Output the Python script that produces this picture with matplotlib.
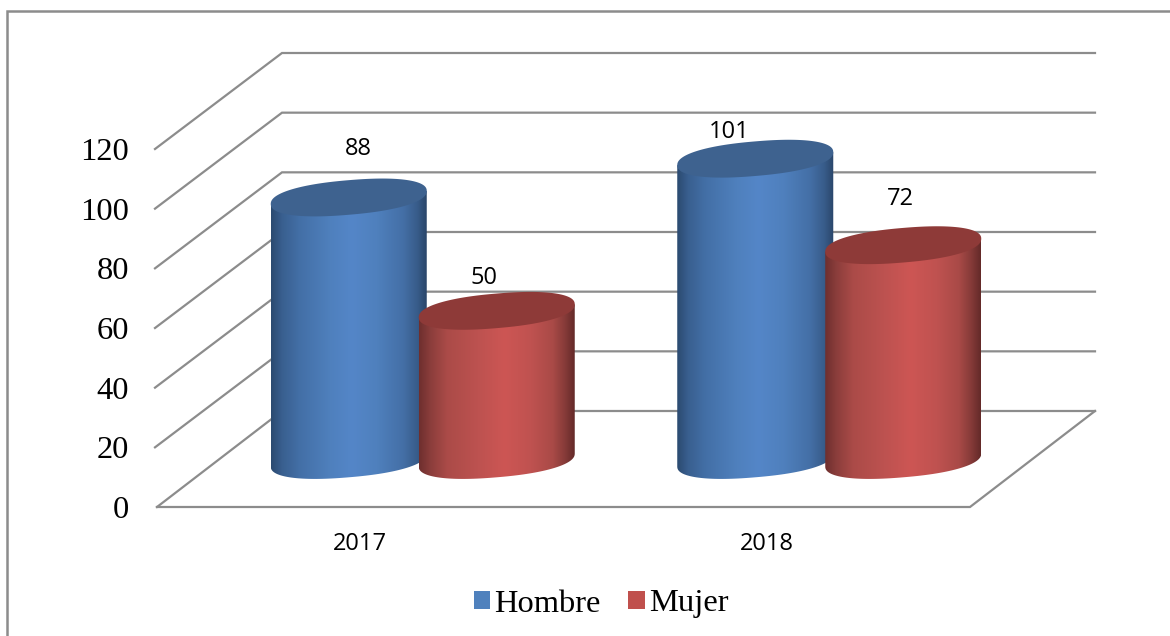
import numpy as np
import matplotlib
matplotlib.use('Agg')
import matplotlib.pyplot as plt
from matplotlib.colors import LinearSegmentedColormap
from matplotlib.patches import Patch, PathPatch
from matplotlib.path import Path
from matplotlib.lines import Line2D

years = ['2017', '2018']
series = ['Hombre', 'Mujer']
hombre = [88, 101]
mujer = [50, 72]
yticks = [0, 20, 40, 60, 80, 100, 120]

W, H = 1170, 636
GRID = '#8c8c8c'
SERIF = 'Liberation Serif'
SANS = 'Open Sans'

fig = plt.figure(figsize=(W / 100, H / 100), dpi=100, facecolor='white')
# axes = front plane of the fake 3d box
ax = fig.add_axes([157 / W, (H - 507) / H, 813 / W, 358 / H])
ax.set_xlim(-0.5, 1.5)
ax.set_ylim(0, 120)
for s in ax.spines.values():
    s.set_visible(False)
ax.patch.set_visible(False)

# pixels to data units
px = 2 / 813
py = 120 / 358

# box
back_dx, back_dy = 125 * px, 96 * py
x0, x1 = ax.get_xlim()
for v in yticks:
    ax.plot([x0 - (2 * px if v else 0), x0 + back_dx, x1 + back_dx],
            [v, v + back_dy, v + back_dy],
            color=GRID, lw=1.6, clip_on=False, zorder=1, solid_joinstyle='miter')
ax.plot([x0, x1, x1 + back_dx], [0, 0, back_dy], color=GRID, lw=1.6,
        clip_on=False, zorder=1, solid_joinstyle='miter')

# cylinders
bar_dx, bar_dy = 62.5 * px, 47 * py
shift = 74 * px
a, tilt, b = 78 * px, 6.5 * py, 17.3 * py

cmap_blue = LinearSegmentedColormap.from_list('b', [
    (0, '#2b4a70'), (0.07, '#395f8f'), (0.18, '#436fa6'), (0.38, '#4f80bd'),
    (0.52, '#5486c8'), (0.68, '#4f80bd'), (0.85, '#446fa6'),
    (0.94, '#385c8a'), (1, '#2a466a')])
cmap_red = LinearSegmentedColormap.from_list('r', [
    (0, '#6e2f2e'), (0.07, '#8a3d3b'), (0.18, '#ab4b48'), (0.38, '#bd5250'),
    (0.55, '#cd5654'), (0.72, '#bf5250'), (0.86, '#a94a47'),
    (0.94, '#853a38'), (1, '#642a29')])
tops = {'Hombre': '#3e628f', 'Mujer': '#8e3a38'}
cmaps = {'Hombre': cmap_blue, 'Mujer': cmap_red}
grad = np.linspace(0, 1, 256).reshape(1, -1)
ROUND = 0.88  # a bit blunter than a true ellipse


def ellipse(cx, cy, t):
    c = np.sign(np.cos(t)) * np.abs(np.cos(t)) ** ROUND
    s = np.sign(np.sin(t)) * np.abs(np.sin(t)) ** ROUND
    return cx + a * c, cy + tilt * c + b * s


def cylinder(cx, val, name):
    base = bar_dy
    top = val + bar_dy
    t = np.linspace(0, -np.pi, 80)
    ex, ey = ellipse(cx, base, t)
    verts = [(cx - a, top - tilt), (cx + a, top + tilt)] + list(zip(ex, ey))
    verts.append(verts[0])
    codes = [Path.MOVETO] + [Path.LINETO] * (len(verts) - 2) + [Path.CLOSEPOLY]
    body = PathPatch(Path(verts, codes), fc='none', ec='none', transform=ax.transData)
    ax.add_patch(body)
    im = ax.imshow(grad, cmap=cmaps[name], aspect='auto', zorder=3,
                   extent=[cx - a, cx + a, 0, top + tilt + 1], interpolation='bilinear')
    im.set_clip_path(body)
    im.set_clip_box(fig.bbox)  # last bar goes past the axes box
    t = np.linspace(0, 2 * np.pi, 160)
    tx, ty = ellipse(cx, top, t)
    ax.fill(tx, ty, color=tops[name], zorder=3, lw=0, clip_on=False)


label_off = {(0, 'Hombre'): (10, 48), (0, 'Mujer'): (-13, 33),
             (1, 'Hombre'): (-26, 27), (1, 'Mujer'): (-3, 46)}

for i in range(len(years)):
    for name, vals, d in ((series[0], hombre, -shift), (series[1], mujer, shift)):
        cx = i + bar_dx + d
        cylinder(cx, vals[i], name)
        ox, oy = label_off[(i, name)]
        ax.annotate(str(vals[i]), (cx, vals[i] + bar_dy), xytext=(ox * 0.72, oy * 0.72),
                    textcoords='offset points', ha='center', va='center',
                    fontsize=17, family=SANS, color='black', zorder=5,
                    annotation_clip=False)

ax.set_xlim(x0, x1)
ax.set_ylim(0, 120)

ax.set_yticks(yticks)
ax.set_xticks([0, 1], years)
ax.tick_params(axis='y', length=0, pad=20, labelsize=23.4)
ax.tick_params(axis='x', length=0, pad=18, labelsize=17)
for lab in ax.get_yticklabels():
    lab.set_family(SERIF)
for lab in ax.get_xticklabels():
    lab.set_family(SANS)

handles = [Patch(fc='#4f81bd', ec='none'), Patch(fc='#c0504d', ec='none')]
fig.legend(handles, series, loc='center', bbox_to_anchor=(601 / W, (H - 604) / H),
           ncol=2, frameon=False, prop={'family': SERIF, 'size': 23.4},
           handlelength=0.5, handleheight=0.5, handletextpad=0.13,
           columnspacing=0.85, borderpad=0, borderaxespad=0)

# outer frame, only top and left are visible in the crop
fig.add_artist(Line2D([7 / W, 7 / W, 1], [0, (H - 11) / H, (H - 11) / H],
                      color=GRID, lw=1.8, solid_joinstyle='miter'))

fig.savefig('out.png', dpi=100)
